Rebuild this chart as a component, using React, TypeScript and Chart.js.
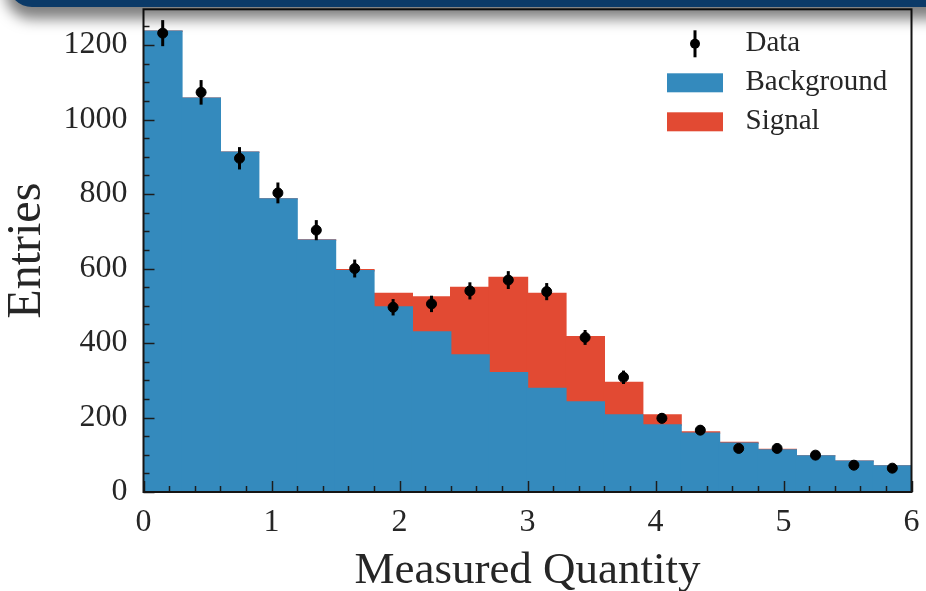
import React, { useEffect, useRef } from "react";
import { Chart, registerables } from "chart.js";

Chart.register(...registerables);

// ---- data ----
const binCenters = [0.15, 0.45, 0.75, 1.05, 1.35, 1.65, 1.95, 2.25, 2.55, 2.85, 3.15, 3.45, 3.75, 4.05, 4.35, 4.65, 4.95, 5.25, 5.55, 5.85];
const backgroundCounts = [1237, 1057, 912, 787, 676, 594, 497, 430, 368, 320, 278, 242, 207, 180, 158, 131, 113, 97, 83, 70];
const signalCounts = [0, 0, 0, 0, 1, 3, 36, 94, 181, 256, 255, 175, 87, 27, 3, 2, 1, 0, 0, 0];
const dataCounts = [1232, 1073, 896, 803, 703, 600, 496, 505, 540, 569, 538, 415, 308, 198, 166, 117, 117, 99, 72, 64];
const dataErrors = [35, 33, 30, 28, 27, 24, 22, 22, 23, 24, 23, 20, 18, 14, 13, 11, 11, 10, 8, 8];
const xTickValues = [0, 1, 2, 3, 4, 5, 6];
const yTickValues = [0, 200, 400, 600, 800, 1000, 1200];
const seriesLabels = ["Data", "Background", "Signal"];

const FONT = "'Liberation Serif', 'Times New Roman', serif";
const TEXT_COLOR = "#262626";
const BLUE = "#348ABD";
const RED = "#E24A33";

const errorBarPlugin = {
  id: "errorBars",
  afterDatasetsDraw(chart: any) {
    const { ctx, scales } = chart;
    const x = scales.x;
    const y = scales.y;
    ctx.save();
    ctx.strokeStyle = "#000";
    ctx.lineWidth = 3;
    ctx.lineCap = "butt";
    for (let i = 0; i < dataCounts.length; i++) {
      const px = x.getPixelForValue(binCenters[i]);
      ctx.beginPath();
      ctx.moveTo(px, y.getPixelForValue(dataCounts[i] - dataErrors[i]));
      ctx.lineTo(px, y.getPixelForValue(dataCounts[i] + dataErrors[i]));
      ctx.stroke();
    }
    ctx.restore();
  },
};

const frameTicksPlugin = {
  id: "frameTicks",
  afterDraw(chart: any) {
    const { ctx, chartArea, scales } = chart;
    const x = scales.x;
    const y = scales.y;
    ctx.save();
    ctx.strokeStyle = "#1c1c1c";
    ctx.lineWidth = 1.5;
    // x ticks (inside, bottom)
    for (let k = 0; k <= 30; k++) {
      const v = k * 0.2;
      const major = k % 5 === 0;
      const px = Math.round(x.getPixelForValue(v)) + 0.5;
      ctx.beginPath();
      ctx.moveTo(px, chartArea.bottom);
      ctx.lineTo(px, chartArea.bottom - (major ? 11 : 6));
      ctx.stroke();
    }
    // y ticks (inside, left)
    for (let k = 0; k * 50 <= y.max; k++) {
      const v = k * 50;
      const major = k % 4 === 0;
      const py = Math.round(y.getPixelForValue(v)) + 0.5;
      ctx.beginPath();
      ctx.moveTo(chartArea.left, py);
      ctx.lineTo(chartArea.left + (major ? 11 : 6), py);
      ctx.stroke();
    }
    // frame
    ctx.lineWidth = 2;
    ctx.strokeStyle = "#151515";
    ctx.strokeRect(chartArea.left, chartArea.top, chartArea.right - chartArea.left, chartArea.bottom - chartArea.top);
    ctx.restore();
  },
};

const legendPlugin = {
  id: "histLegend",
  afterDraw(chart: any) {
    const { ctx, chartArea } = chart;
    const ds = chart.data.datasets;
    const patchL = chartArea.right - 244.5;
    const patchW = 56;
    const patchH = 19;
    const textX = chartArea.right - 166;
    const rowY = [chartArea.top + 34.5, chartArea.top + 73.5, chartArea.top + 112.5];
    ctx.save();
    ctx.font = `29px ${FONT}`;
    ctx.fillStyle = TEXT_COLOR;
    ctx.textAlign = "left";
    ctx.textBaseline = "middle";
    // Data row
    const cx = patchL + patchW / 2;
    ctx.strokeStyle = "#000";
    ctx.lineWidth = 3;
    ctx.beginPath();
    ctx.moveTo(cx, rowY[0] - 13.5);
    ctx.lineTo(cx, rowY[0] + 13.5);
    ctx.stroke();
    ctx.fillStyle = "#000";
    ctx.beginPath();
    ctx.arc(cx, rowY[0], 5, 0, Math.PI * 2);
    ctx.fill();
    ctx.fillStyle = TEXT_COLOR;
    ctx.fillText(ds[0].label, textX, rowY[0]);
    // Background / Signal rows
    for (let r = 1; r <= 2; r++) {
      ctx.fillStyle = ds[r].backgroundColor;
      ctx.fillRect(patchL, rowY[r] - patchH / 2, patchW, patchH);
      ctx.fillStyle = TEXT_COLOR;
      ctx.fillText(ds[r].label, textX, rowY[r]);
    }
    ctx.restore();
  },
};

export default function App() {
  const canvasRef = useRef<HTMLCanvasElement | null>(null);

  useEffect(() => {
    if (!canvasRef.current) return;
    const chart = new Chart(canvasRef.current, {
      type: "bar",
      data: {
        datasets: [
          {
            type: "scatter",
            label: seriesLabels[0],
            data: binCenters.map((x, i) => ({ x, y: dataCounts[i] })),
            backgroundColor: "#000",
            borderColor: "#000",
            pointRadius: 5,
            pointHoverRadius: 5,
            stack: "points",
            order: -1,
          } as any,
          {
            type: "bar",
            label: seriesLabels[1],
            data: binCenters.map((x, i) => ({ x, y: backgroundCounts[i] })),
            backgroundColor: BLUE,
            borderWidth: 0,
            inflateAmount: 0.7,
            barPercentage: 1,
            categoryPercentage: 1,
            stack: "hist",
            order: 1,
          } as any,
          {
            type: "bar",
            label: seriesLabels[2],
            data: binCenters.map((x, i) => ({ x, y: signalCounts[i] })),
            backgroundColor: RED,
            borderWidth: 0,
            inflateAmount: 0.7,
            barPercentage: 1,
            categoryPercentage: 1,
            stack: "hist",
            order: 1,
          } as any,
        ],
      },
      options: {
        animation: false,
        responsive: false,
        devicePixelRatio: 1,
        events: [],
        layout: { padding: { top: 9.3, right: 14.5, left: 0, bottom: 0 } },
        plugins: {
          legend: { display: false },
          tooltip: { enabled: false },
        },
        scales: {
          x: {
            type: "linear",
            min: 0,
            max: 6,
            offset: false,
            grid: { display: false, drawTicks: false },
            border: { display: false },
            ticks: {
              padding: 11,
              color: TEXT_COLOR,
              font: { family: FONT, size: 32 },
              callback: (v: any) => String(v),
            },
            afterBuildTicks: (s: any) => {
              s.ticks = xTickValues.map((v) => ({ value: v }));
            },
            afterFit: (s: any) => {
              s.height = 99;
              s.paddingLeft = 0;
              s.paddingRight = 0;
            },
            title: {
              display: true,
              text: "Measured Quantity",
              color: TEXT_COLOR,
              font: { family: FONT, size: 45, lineHeight: 1 },
              padding: { top: 0, bottom: -3 },
            },
          },
          y: {
            type: "linear",
            stacked: true,
            min: 0,
            max: 1296,
            grid: { display: false, drawTicks: false },
            border: { display: false },
            ticks: {
              padding: 16,
              color: TEXT_COLOR,
              font: { family: FONT, size: 32 },
              callback: (v: any) => String(v),
            },
            afterBuildTicks: (s: any) => {
              s.ticks = yTickValues.map((v) => ({ value: v }));
            },
            afterFit: (s: any) => {
              s.width = 143.5;
              s.paddingTop = 0;
              s.paddingBottom = 0;
            },
            title: {
              display: true,
              text: "Entries",
              color: TEXT_COLOR,
              font: { family: FONT, size: 48, lineHeight: 1 },
              padding: { top: 3, bottom: 0 },
            },
          },
        },
      } as any,
      plugins: [errorBarPlugin, frameTicksPlugin, legendPlugin],
    });
    return () => chart.destroy();
  }, []);

  return (
    <div
      style={{
        position: "fixed",
        left: 0,
        top: 0,
        width: 926,
        height: 591,
        background: "#fff",
        overflow: "hidden",
      }}
    >
      <canvas ref={canvasRef} width={926} height={591} style={{ display: "block" }} />
      <div
        style={{
          position: "absolute",
          left: 8,
          right: -20,
          top: -30,
          height: 37,
          background: "#0b3a68",
          borderBottomLeftRadius: 24,
          boxShadow: "0 9px 14px 3px rgba(0,0,0,0.5)",
          pointerEvents: "none",
        }}
      />
    </div>
  );
}
